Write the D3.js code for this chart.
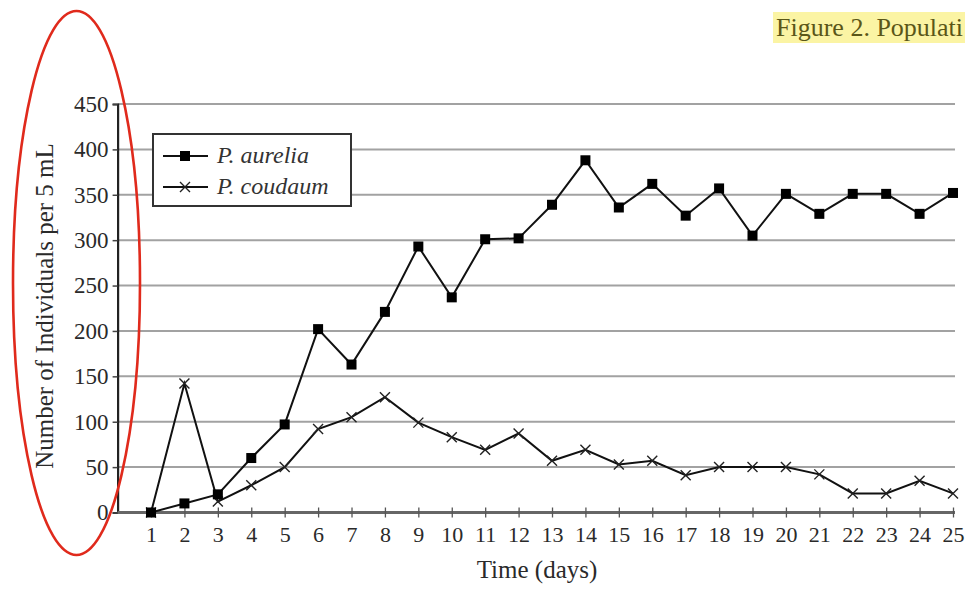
<!DOCTYPE html>
<html>
<head>
<meta charset="utf-8">
<script src="https://cdn.jsdelivr.net/npm/d3@7"></script>
<style>
  html, body { margin: 0; padding: 0; background: #fff; }
  svg { display: block; }
  text { font-family: "Liberation Serif", "Times New Roman", serif; }
</style>
</head>
<body>
<svg id="chart" width="965" height="591"></svg>
<script>
// Population counts (individuals per 5 mL) for each day
const days = d3.range(1, 26);
const aurelia  = [0, 10, 20, 60, 97, 202, 163, 221, 293, 237, 301, 302, 339, 388, 336, 362, 327, 357, 305, 351, 329, 351, 351, 329, 352];
const caudatum = [0, 142, 12, 30, 50, 92, 105, 127, 99, 83, 69, 87, 57, 69, 53, 57, 41, 50, 50, 50, 42, 21, 21, 35, 21];
const yTicks = [0, 50, 100, 150, 200, 250, 300, 350, 400, 450];
const seriesNames = ["P. aurelia", "P. coudaum"];
const titleText = "Figure 2. Populati";
const xTitle = "Time (days)";
const yTitle = "Number of Individuals per 5 mL";

const svg = d3.select("#chart");

const x = d3.scaleLinear().domain([0, 25]).range([117.6, 953]);
const y = d3.scaleLinear().domain([0, 450]).range([512.5, 104]);
const gridRight = 955;

// horizontal gridlines
svg.append("g")
  .selectAll("line")
  .data(yTicks.filter(d => d > 0))
  .join("line")
  .attr("x1", x(0)).attr("x2", gridRight)
  .attr("y1", d => y(d)).attr("y2", d => y(d))
  .attr("stroke", "#a2a2a2").attr("stroke-width", 2);

// y axis
const yAxis = svg.append("g")
  .attr("transform", `translate(${x(0)},0)`)
  .call(d3.axisLeft(y).tickValues(yTicks).tickSize(5).tickPadding(4));
yAxis.select(".domain").attr("stroke", "#222").attr("stroke-width", 2.2);
yAxis.selectAll(".tick line").attr("stroke", "#444").attr("stroke-width", 1.5);
yAxis.selectAll(".tick text")
  .attr("font-size", 23).attr("fill", "#2a2a2a")
  .attr("font-family", "Liberation Serif, serif");

// x axis
const xAxis = svg.append("g")
  .attr("transform", `translate(0,${y(0)})`)
  .call(d3.axisBottom(x).tickValues(days).tickSize(0).tickPadding(14));
xAxis.select(".domain").attr("d", `M${x(0)},0H${gridRight}`)
  .attr("stroke", "#666").attr("stroke-width", 3);
xAxis.selectAll(".tick line").remove();
xAxis.selectAll(".tick").append("line")
  .attr("y1", -5).attr("y2", 5)
  .attr("stroke", "#555").attr("stroke-width", 1.3);
xAxis.selectAll(".tick text")
  .attr("font-size", 22).attr("fill", "#2a2a2a")
  .attr("font-family", "Liberation Serif, serif");

// axis titles
svg.append("text")
  .attr("x", 537).attr("y", 578)
  .attr("text-anchor", "middle")
  .attr("font-size", 25).attr("fill", "#2a2a2a")
  .text(xTitle);

svg.append("text")
  .attr("transform", "translate(53,306) rotate(-90)")
  .attr("text-anchor", "middle")
  .attr("font-size", 25).attr("fill", "#2a2a2a")
  .text(yTitle);

// lines
const line = d3.line().x((d, i) => x(days[i])).y(d => y(d));
svg.append("path").datum(caudatum)
  .attr("d", line).attr("fill", "none")
  .attr("stroke", "#111").attr("stroke-width", 2);
svg.append("path").datum(aurelia)
  .attr("d", line).attr("fill", "none")
  .attr("stroke", "#111").attr("stroke-width", 2);

// cross markers
const crossPath = "M-5,-5L5,5M-5,5L5,-5";
svg.append("g").selectAll("path")
  .data(caudatum)
  .join("path")
  .attr("transform", (d, i) => `translate(${x(days[i])},${y(d)})`)
  .attr("d", crossPath)
  .attr("stroke", "#222").attr("stroke-width", 1.4).attr("fill", "none");

// square markers
svg.append("g").selectAll("rect")
  .data(aurelia)
  .join("rect")
  .attr("x", (d, i) => x(days[i]) - 5)
  .attr("y", d => y(d) - 5)
  .attr("width", 10).attr("height", 10)
  .attr("fill", "#000");

// legend
const legend = svg.append("g");
legend.append("rect")
  .attr("x", 153).attr("y", 134).attr("width", 198).attr("height", 72)
  .attr("fill", "#fff").attr("stroke", "#333").attr("stroke-width", 2);
const rows = [156, 187];
rows.forEach((ry, i) => {
  legend.append("line")
    .attr("x1", 163).attr("x2", 208).attr("y1", ry).attr("y2", ry)
    .attr("stroke", "#111").attr("stroke-width", 2);
  if (i === 0) {
    legend.append("rect").attr("x", 180).attr("y", ry - 5)
      .attr("width", 10).attr("height", 10).attr("fill", "#000");
  } else {
    legend.append("path").attr("transform", `translate(185,${ry})`)
      .attr("d", crossPath).attr("stroke", "#222")
      .attr("stroke-width", 1.4).attr("fill", "none");
  }
  legend.append("text")
    .attr("x", 217).attr("y", ry + 7)
    .attr("font-size", 24).attr("font-style", "italic").attr("fill", "#333")
    .text(seriesNames[i]);
});

// highlighted figure caption
svg.append("rect")
  .attr("x", 773).attr("y", 12).attr("width", 192).attr("height", 31)
  .attr("fill", "#fbf4a4");
svg.append("text")
  .attr("x", 776).attr("y", 36)
  .attr("font-size", 26).attr("fill", "#5a5618")
  .text(titleText);

// red annotation ellipse around the y axis
svg.append("ellipse")
  .attr("cx", 76.5).attr("cy", 283).attr("rx", 63.5).attr("ry", 272)
  .attr("fill", "none").attr("stroke", "#e02a1c").attr("stroke-width", 2.6);
</script>
</body>
</html>
